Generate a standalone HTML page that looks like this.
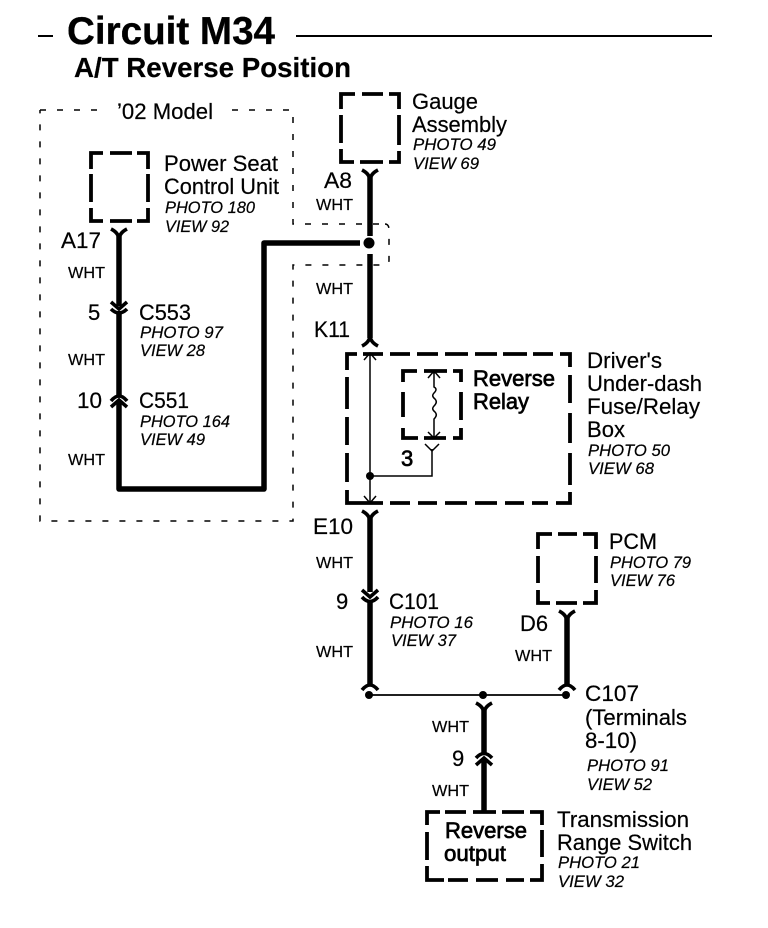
<!DOCTYPE html>
<html><head><meta charset="utf-8"><style>
html,body{margin:0;padding:0;background:#fff}
svg{display:block}
text{font-family:"Liberation Sans",sans-serif;fill:#000;stroke:#000;stroke-width:.2}
.l{font-size:22px}
.r{font-size:22px;stroke-width:.7}
.p{font-size:16.5px;font-style:italic}
.w{font-size:16px}
.b{fill:none;stroke:#000;stroke-width:3.8}
.d{fill:none;stroke:#000;stroke-width:1.5;stroke-dasharray:6 11}
.t{fill:none;stroke:#000;stroke-width:5.5}
.y{fill:none;stroke:#000;stroke-width:3.6}
.n{fill:none;stroke:#000;stroke-width:1.5}
</style></head><body>
<svg width="768" height="928" viewBox="0 0 768 928" xmlns="http://www.w3.org/2000/svg">
<path d="M38 36H53M296 36H712" stroke="#000" stroke-width="2" fill="none"/>
<text x="67" y="44" textLength="208" lengthAdjust="spacingAndGlyphs" style="font-size:38.5px;font-weight:bold;stroke-width:.3">Circuit M34</text>
<text x="74" y="77" textLength="277" lengthAdjust="spacingAndGlyphs" style="font-size:27.3px;font-weight:bold">A/T Reverse Position</text>

<path class="d" d="M40 110H102M232 110H293V224H385"/>
<path class="d" d="M385 224Q389 224 389 230V260Q389 265 385 265H293V521H40V110"/>
<text class="l" x="117" y="119" textLength="96" lengthAdjust="spacingAndGlyphs">’02 Model</text>

<path class="b" d="M91 169V153H103M110 153H132M137 153H148V169M148 174V202M148 208V221H137M132 221H110M103 221H91V208M91 202V174"/>
<text class="l" x="164" y="171" textLength="114" lengthAdjust="spacingAndGlyphs">Power Seat</text>
<text class="l" x="164" y="194" textLength="115" lengthAdjust="spacingAndGlyphs">Control Unit</text>
<text class="p" x="165" y="213" textLength="90" lengthAdjust="spacingAndGlyphs">PHOTO 180</text>
<text class="p" x="165" y="232" textLength="64" lengthAdjust="spacingAndGlyphs">VIEW 92</text>
<text class="l" x="61" y="248" textLength="40" lengthAdjust="spacingAndGlyphs">A17</text>
<text class="w" x="68" y="278" textLength="37" lengthAdjust="spacingAndGlyphs">WHT</text>
<text class="l" x="88" y="320">5</text>
<text class="l" x="139" y="320" textLength="52" lengthAdjust="spacingAndGlyphs">C553</text>
<text class="p" x="140" y="338" textLength="83" lengthAdjust="spacingAndGlyphs">PHOTO 97</text>
<text class="p" x="140" y="356" textLength="65" lengthAdjust="spacingAndGlyphs">VIEW 28</text>
<text class="w" x="68" y="365" textLength="37" lengthAdjust="spacingAndGlyphs">WHT</text>
<text class="l" x="77" y="408" textLength="25" lengthAdjust="spacingAndGlyphs">10</text>
<text class="l" x="139" y="408" textLength="50" lengthAdjust="spacingAndGlyphs">C551</text>
<text class="p" x="140" y="427" textLength="90" lengthAdjust="spacingAndGlyphs">PHOTO 164</text>
<text class="p" x="140" y="445" textLength="65" lengthAdjust="spacingAndGlyphs">VIEW 49</text>
<text class="w" x="68" y="465" textLength="37" lengthAdjust="spacingAndGlyphs">WHT</text>

<path class="y" d="M111 229Q119 233 119 240Q119 233 127 229"/>
<path class="t" d="M119 236V306"/>
<path class="y" d="M111 302L119 309L127 302M111 309Q119 317 127 309"/>
<path class="t" d="M119 313V396"/>
<path class="y" d="M111 401Q119 391 127 401M111 407L119 400L127 407"/>
<path class="t" d="M119 402V489H264V243H360" stroke-linejoin="round"/>
<circle cx="369" cy="243" r="5.500"/>

<path class="b" d="M341 109V94H355M362 94H383M389 94H399V109M399 115V145M399 151V162H389M383 162H360M354 162H341V149M341 143V115"/>
<text class="l" x="412" y="109" textLength="66" lengthAdjust="spacingAndGlyphs">Gauge</text>
<text class="l" x="412" y="132" textLength="95" lengthAdjust="spacingAndGlyphs">Assembly</text>
<text class="p" x="413" y="150" textLength="83" lengthAdjust="spacingAndGlyphs">PHOTO 49</text>
<text class="p" x="413" y="169" textLength="66" lengthAdjust="spacingAndGlyphs">VIEW 69</text>
<text class="l" x="324" y="188" textLength="28" lengthAdjust="spacingAndGlyphs">A8</text>
<text class="w" x="316" y="210" textLength="37" lengthAdjust="spacingAndGlyphs">WHT</text>
<text class="w" x="316" y="294" textLength="37" lengthAdjust="spacingAndGlyphs">WHT</text>
<text class="l" x="314" y="337" textLength="36" lengthAdjust="spacingAndGlyphs">K11</text>

<path class="y" d="M362 170Q370 174 370 181Q370 174 378 170"/>
<path class="t" d="M370 177V236M370 254V338"/>
<path class="y" d="M362 346Q370 342 370 335Q370 342 378 346"/>

<path class="b" d="M347 370V354H357M363 354H383M390 354H410M417 354H438M445 354H468M475 354H497M503 354H527M533 354H553M560 354H570V367M570 375V403M570 413V443M570 453V485M570 492V503H556M548 503H532M524 503H505M497 503H475M467 503H445M437 503H418M410 503H390M383 503H347V490M347 482V453M347 445V417M347 409V377"/>
<path class="n" d="M370 353V503M364 360L370 353L376 360M364 496L370 503L376 496M370 476H432V449"/>
<path class="n" d="M425 444L432 451L439 444"/>
<circle cx="370" cy="476" r="4"/>
<path class="b" d="M403 382V371H417M424 371H447M453 371H461V382M461 392V420M461 428V438H453M446 438H424M418 438H403V428M403 417V392"/>
<path class="n" d="M428 378L434 371L440 378M434 371V387Q438 389 434 393Q431 396 435 399Q438 402 434 406Q431 409 435 412Q438 415 434 419V438M428 432L434 438L440 432"/>
<text class="r" x="473" y="386" textLength="82" lengthAdjust="spacingAndGlyphs">Reverse</text>
<text class="r" x="473" y="409" textLength="56" lengthAdjust="spacingAndGlyphs">Relay</text>
<text class="r" x="401" y="466">3</text>
<text class="l" x="587" y="368" textLength="75" lengthAdjust="spacingAndGlyphs">Driver's</text>
<text class="l" x="587" y="391" textLength="115" lengthAdjust="spacingAndGlyphs">Under-dash</text>
<text class="l" x="587" y="414" textLength="113" lengthAdjust="spacingAndGlyphs">Fuse/Relay</text>
<text class="l" x="587" y="437" textLength="38" lengthAdjust="spacingAndGlyphs">Box</text>
<text class="p" x="588" y="456" textLength="82" lengthAdjust="spacingAndGlyphs">PHOTO 50</text>
<text class="p" x="588" y="474" textLength="66" lengthAdjust="spacingAndGlyphs">VIEW 68</text>

<text class="l" x="313" y="534" textLength="40" lengthAdjust="spacingAndGlyphs">E10</text>
<text class="w" x="316" y="568" textLength="37" lengthAdjust="spacingAndGlyphs">WHT</text>
<text class="l" x="336" y="609">9</text>
<text class="l" x="389" y="609" textLength="50" lengthAdjust="spacingAndGlyphs">C101</text>
<text class="p" x="390" y="628" textLength="83" lengthAdjust="spacingAndGlyphs">PHOTO 16</text>
<text class="p" x="391" y="646" textLength="65" lengthAdjust="spacingAndGlyphs">VIEW 37</text>
<text class="w" x="316" y="657" textLength="37" lengthAdjust="spacingAndGlyphs">WHT</text>

<path class="y" d="M362 511Q370 515 370 522Q370 515 378 511"/>
<path class="t" d="M370 518V592"/>
<path class="y" d="M362 590L370 597L378 590M362 597Q370 606 378 597"/>
<path class="t" d="M370 602V684"/>
<path class="y" d="M362 690Q370 680 378 690"/>

<path class="b" d="M538 549V534H552M558 534H577M583 534H596V549M596 556V583M596 590V603H583M577 603H556M550 603H538V590M538 583V556"/>
<text class="l" x="609" y="549" textLength="48" lengthAdjust="spacingAndGlyphs">PCM</text>
<text class="p" x="610" y="568" textLength="81" lengthAdjust="spacingAndGlyphs">PHOTO 79</text>
<text class="p" x="610" y="586" textLength="65" lengthAdjust="spacingAndGlyphs">VIEW 76</text>
<text class="l" x="520" y="631" textLength="28" lengthAdjust="spacingAndGlyphs">D6</text>
<text class="w" x="515" y="661" textLength="37" lengthAdjust="spacingAndGlyphs">WHT</text>
<path class="y" d="M559 611Q567 615 567 622Q567 615 575 611"/>
<path class="t" d="M567 618V684"/>
<path class="y" d="M559 690Q567 680 575 690"/>

<path d="M369 695H567" stroke="#000" stroke-width="1.700" fill="none"/>
<circle cx="369" cy="695" r="4"/><circle cx="483" cy="695" r="4"/><circle cx="566" cy="695" r="4"/>
<text class="l" x="585" y="701" textLength="54" lengthAdjust="spacingAndGlyphs">C107</text>
<text class="l" x="585" y="725" textLength="102" lengthAdjust="spacingAndGlyphs">(Terminals</text>
<text class="l" x="585" y="748" textLength="52" lengthAdjust="spacingAndGlyphs">8-10)</text>
<text class="p" x="587" y="771" textLength="82" lengthAdjust="spacingAndGlyphs">PHOTO 91</text>
<text class="p" x="587" y="790" textLength="65" lengthAdjust="spacingAndGlyphs">VIEW 52</text>

<path class="y" d="M476 703Q484 707 484 714Q484 707 492 703"/>
<path class="t" d="M484 710V754"/>
<path class="y" d="M476 758Q484 749 492 758M476 765L484 758L492 765"/>
<path class="t" d="M484 760V811"/>
<text class="w" x="432" y="732" textLength="37" lengthAdjust="spacingAndGlyphs">WHT</text>
<text class="l" x="452" y="766">9</text>
<text class="w" x="432" y="796" textLength="37" lengthAdjust="spacingAndGlyphs">WHT</text>

<path class="b" d="M427 825V812H440M445 812H466M473 812H496M502 812H524M530 812H542V825M542 830V857M542 864V880H530M524 880H506M498 880H476M468 880H448M444 880H427V866M427 860V832"/>
<text class="r" x="445" y="838" textLength="82" lengthAdjust="spacingAndGlyphs">Reverse</text>
<text class="r" x="444" y="861" textLength="62" lengthAdjust="spacingAndGlyphs">output</text>
<text class="l" x="557" y="827" textLength="132" lengthAdjust="spacingAndGlyphs">Transmission</text>
<text class="l" x="557" y="850" textLength="135" lengthAdjust="spacingAndGlyphs">Range Switch</text>
<text class="p" x="558" y="868" textLength="82" lengthAdjust="spacingAndGlyphs">PHOTO 21</text>
<text class="p" x="558" y="887" textLength="66" lengthAdjust="spacingAndGlyphs">VIEW 32</text>
</svg>
</body></html>
